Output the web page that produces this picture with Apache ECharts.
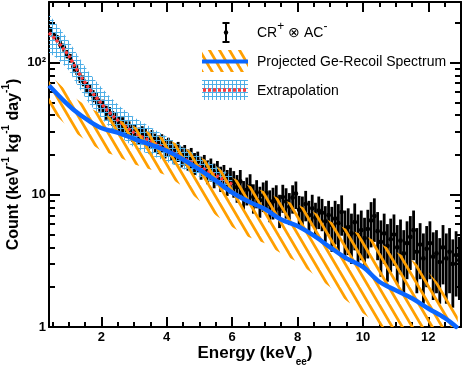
<!DOCTYPE html>
<html>
<head>
<meta charset="utf-8">
<script src="https://cdn.jsdelivr.net/npm/echarts@6.0.0/dist/echarts.min.js"></script>
<style>
html, body { margin: 0; padding: 0; background: #fff; }
#chart { width: 463px; height: 368px; }
</style>
</head>
<body>
<div id="chart"></div>
<script>
// measured spectrum (CR+ x AC-), 0.1 keV bins from 0.4 keV
const binLow = 0.4
const binWidth = 0.1
const counts = [
  175, 160, 152, 136, 130, 116, 108, 93, 88, 77, 73, 65, 62, 56, 54, 48, 47, 42, 41, 38, 37, 34.5, 34, 31.5, 31.5, 29.5,
  29.5, 28, 28.8, 27.5, 26, 26.8, 25, 24.2, 24.8, 22.6, 23.2, 22, 20.8, 21.4, 19.6, 20.2, 18.6, 19.1, 17.4, 17.9,
  16.2, 16.8, 15.1, 15.7, 14.2, 14.9, 13.4, 13.9, 12.6, 13.1,
  12.3, 11.4, 12.6, 10.2, 10.9, 11.6, 9.6, 10.4, 9.1, 9.9, 10.3, 8.5, 8.9, 9.4, 7.8,
  9.6, 8.9, 8.1, 9.5, 10.2, 7.7, 7.6, 8.5, 7.0, 7.9, 6.7, 7.6, 7.3, 6.3, 7.0, 5.9, 6.6, 6.1, 7.4, 5.4,
  5.7, 5.1, 6.2, 5.0, 5.4, 4.7, 5.5, 6.4, 6.9, 5.3, 4.4, 5.1, 4.1, 4.6, 5.0, 4.0, 4.5, 3.6, 4.3, 4.8,
  5.4, 3.7, 4.2, 3.3, 3.9, 4.3, 3.4, 3.6, 3.1, 4.0, 3.3, 3.7, 3.0, 3.5, 3.2
]
const countErrs = [
  10.5, 10, 9.7, 9.2, 9, 8.5, 8.2, 7.6, 7.4, 6.9, 6.8, 6.4, 6.2, 5.9, 5.8, 5.5, 5.4, 5.1, 5.1, 4.9, 4.8, 4.6, 4.6, 4.4, 4.4, 4.3,
  4.3, 4.2, 4.2, 4.1, 4.0, 4.1, 4.0, 3.9, 3.9, 3.8, 3.8, 3.7, 3.6, 3.7, 3.5, 3.6, 3.4, 3.5, 3.3, 3.3,
  3.2, 3.2, 3.1, 3.1, 3.0, 3.1, 2.9, 2.9, 2.8, 2.9,
  2.8, 2.7, 2.8, 2.5, 2.6, 2.7, 2.4, 2.5, 2.4, 2.5, 2.5, 2.3, 2.4, 2.4, 2.2, 2.3, 2.3, 2.2, 2.3, 2.4,
  2.1, 2.1, 2.2, 2.0, 2.1, 2.0, 2.1, 2.0, 1.9, 2.0, 2.2, 2.4, 2.4, 2.5, 2.2, 2.2, 2.1, 2.4, 2.1, 2.2,
  2.0, 2.2, 2.4, 2.5, 2.1, 2.0, 2.1, 1.9, 2.0, 2.1, 1.9, 2.0, 1.8, 2.0, 2.1, 2.2, 1.9, 1.9, 1.8, 1.9,
  2.0, 1.8, 1.8, 1.6, 1.9, 1.8, 1.9, 1.6, 1.8, 1.6
]

// projected Ge-recoil spectrum with its uncertainty band
const projE   = [0.4, 0.8, 1.2, 1.6, 2.0, 2.5, 3.0, 3.5, 4.0, 4.5, 5.0, 5.5, 6.0, 6.5, 7.0, 7.5, 8.0, 8.5, 9.0, 9.5, 10.0, 10.5, 11.0, 11.5, 12.0, 12.5, 12.9]
const projMid = [67, 53, 43, 36.5, 32, 29.5, 26.5, 24, 21.5, 18.5, 15.5, 12.8, 10.4, 8.9, 7.8, 6.5, 5.8, 4.9, 4.0, 3.3, 2.85, 2.2, 1.9, 1.65, 1.38, 1.17, 0.98]
const projHi  = [82, 66, 54, 46, 41, 37, 33, 29.5, 26.5, 23, 19.5, 16.5, 13.5, 11.8, 10.6, 9.2, 8.4, 7.4, 6.3, 5.5, 5.0, 4.3, 3.7, 3.2, 2.6, 1.9, 1.3]
const projLo  = [45, 36, 29.5, 25, 21.5, 19.5, 17, 15.5, 14, 11.5, 9, 7, 5.7, 4.8, 4.3, 3.6, 3.1, 2.5, 2.0, 1.58, 1.27, 1.03, 0.85, 0.7, 0.6, 0.5, 0.45]

// extrapolation
const extE   = [0.4, 0.6, 0.8, 1.0, 1.2, 1.4, 1.6, 1.8, 2.0, 2.2, 2.4, 2.6, 2.8, 3.0, 3.5, 4.0, 4.5, 5.0, 5.5, 6.0]
const extMid = [168, 150, 131, 113, 93, 77, 65, 56, 49, 43, 38.5, 35, 32, 29.5, 25.5, 22, 19, 16.3, 14, 12]
const extHi  = [232, 200, 172, 147, 122, 102, 86, 74, 65, 57, 51, 46, 42, 38.5, 32.5, 27.5, 23, 19.5, 16.5, 13.8]
const extLo  = [118, 110, 99, 88, 72, 60, 50, 43.5, 38, 33.5, 30, 27.2, 24.8, 22.8, 20, 17.8, 15.7, 13.7, 11.9, 10.4]

// axis ticks
const xMajor = [2, 4, 6, 8, 10, 12]
const xMinor = [0.5, 1, 1.5, 2.5, 3, 3.5, 4.5, 5, 5.5, 6.5, 7, 7.5, 8.5, 9, 9.5, 10.5, 11, 11.5, 12.5]
const yMajor = [1, 10, 100]
const yMinor = [2, 3, 4, 5, 6, 7, 8, 9, 20, 30, 40, 50, 60, 70, 80, 90, 200]

const FONT = '"Liberation Sans", Arial, Helvetica, sans-serif'
const BLUE = '#0a66ff'
const ORANGE = '#ff9f00'
const CYAN = '#4eaee6'
const RED = '#ff3a3a'

function hatchPattern() {
  const c = document.createElement('canvas')
  c.width = 10; c.height = 17
  const g = c.getContext('2d')
  g.strokeStyle = ORANGE
  g.lineWidth = 2.8
  for (const dx of [-10, 0, 10]) {
    g.beginPath()
    g.moveTo(dx - 10, -17)
    g.lineTo(dx + 20, 34)
    g.stroke()
  }
  return { image: c, repeat: 'repeat' }
}

function gridPattern() {
  const c = document.createElement('canvas')
  c.width = 4; c.height = 4
  const g = c.getContext('2d')
  g.strokeStyle = CYAN
  g.lineWidth = 1
  g.beginPath()
  g.moveTo(0.5, 0); g.lineTo(0.5, 4)
  g.moveTo(0, 0.5); g.lineTo(4, 0.5)
  g.stroke()
  return { image: c, repeat: 'repeat' }
}

const orangeFill = hatchPattern()
const cyanFill = gridPattern()

function bandSeries(xs, lo, hi, fill, z) {
  return {
    type: 'custom',
    clip: true,
    silent: true,
    z: z,
    data: [[xs[0], hi[0]]],
    encode: { x: 0, y: 1 },
    renderItem: function (params, api) {
      const pts = []
      for (let i = 0; i < xs.length; i++) pts.push(api.coord([xs[i], hi[i]]))
      for (let i = xs.length - 1; i >= 0; i--) pts.push(api.coord([xs[i], lo[i]]))
      return { type: 'polygon', shape: { points: pts }, style: { fill: fill } }
    }
  }
}

function xAx(grid, pos, ticks, len, line) {
  return {
    type: 'value', gridIndex: grid, position: pos, min: 0.4, max: 13,
    axisLine: { show: line, onZero: false, lineStyle: { color: '#000', width: 2 } },
    axisTick: { show: true, inside: true, length: len, customValues: ticks, lineStyle: { color: '#000', width: 2 } },
    axisLabel: { show: false },
    splitLine: { show: false }
  }
}

function yAx(grid, pos, ticks, len, line) {
  return {
    type: 'log', logBase: 10, gridIndex: grid, position: pos, min: 1, max: 287,
    axisLine: { show: line, onZero: false, lineStyle: { color: '#000', width: 2 } },
    axisTick: { show: true, inside: true, length: len, customValues: ticks, lineStyle: { color: '#000', width: 2 } },
    axisLabel: { show: false },
    splitLine: { show: false },
    minorTick: { show: false }
  }
}

const xBottom = xAx(0, 'bottom', xMajor, 10, true)
xBottom.axisLabel = {
  show: true, customValues: xMajor, margin: 4,
  color: '#000', fontFamily: FONT, fontWeight: 'bold', fontSize: 13
}
xBottom.name = 'Energy (keV{b|ee})'
xBottom.nameLocation = 'middle'
xBottom.nameGap = 12
xBottom.nameMoveOverlap = false
xBottom.nameTextStyle = {
  color: '#000', fontFamily: FONT, fontWeight: 'bold', fontSize: 17, lineHeight: 28,
  rich: { b: { fontFamily: FONT, fontWeight: 'bold', fontSize: 10, verticalAlign: 'bottom', color: '#000' } }
}

const yLeft = yAx(0, 'left', yMajor, 11, true)
yLeft.axisLabel = {
  show: true, customValues: yMajor, margin: 3,
  color: '#000', fontFamily: FONT, fontWeight: 'bold', fontSize: 13,
  formatter: function (v) { return v >= 100 ? '10²' : String(v) }
}
yLeft.name = 'Count (keV{s|-1} kg{s|-1} day{s|-1})'
yLeft.nameLocation = 'middle'
yLeft.nameGap = 23
yLeft.nameRotate = 90
yLeft.nameMoveOverlap = false
yLeft.nameTextStyle = {
  color: '#000', fontFamily: FONT, fontWeight: 'bold', fontSize: 16, lineHeight: 25,
  rich: { s: { fontFamily: FONT, fontWeight: 'bold', fontSize: 10, verticalAlign: 'top', color: '#000' } }
}

const points = counts.map((v, i) => [binLow + binWidth * (i + 0.5), v, countErrs[i]])

const chart = echarts.init(document.getElementById('chart'), null, { renderer: 'canvas' })

const option = {
  animation: false,
  backgroundColor: '#fff',
  grid: [
    { left: 49, right: 2, top: 2, bottom: 41, containLabel: false, outerBoundsMode: 'none' },
    { left: 49, right: 2, top: 2, bottom: 41, containLabel: false, outerBoundsMode: 'none' }
  ],
  xAxis: [
    xBottom,
    xAx(0, 'top', xMajor, 10, true),
    xAx(1, 'bottom', xMinor, 5, false),
    xAx(1, 'top', xMinor, 5, false)
  ],
  yAxis: [
    yLeft,
    yAx(0, 'right', yMajor, 11, true),
    yAx(1, 'left', yMinor, 6, false),
    yAx(1, 'right', yMinor, 6, false)
  ],
  series: [
    {
      // data points with error bars
      type: 'custom',
      clip: true,
      silent: true,
      z: 2,
      data: points,
      encode: { x: 0, y: 1 },
      renderItem: function (params, api) {
        const x = api.value(0), y = api.value(1), e = api.value(2)
        const mid = api.coord([x, y])
        const top = api.coord([x, y + e])
        const bot = api.coord([x, Math.max(y - e, 0.3)])
        const l = api.coord([x - binWidth / 2, y])
        const r = api.coord([x + binWidth / 2, y])
        return {
          type: 'group',
          children: [
            { type: 'line', shape: { x1: mid[0], y1: top[1], x2: mid[0], y2: bot[1] }, style: { stroke: '#000', lineWidth: 2.8 } },
            { type: 'line', shape: { x1: l[0], y1: mid[1], x2: r[0], y2: mid[1] }, style: { stroke: '#000', lineWidth: 1.8 } },
            { type: 'circle', shape: { cx: mid[0], cy: mid[1], r: 2.4 }, style: { fill: '#000' } }
          ]
        }
      }
    },
    bandSeries(extE, extLo, extHi, cyanFill, 3),
    {
      type: 'line',
      z: 4,
      data: extE.map((e, i) => [e, extMid[i]]),
      smooth: 0.3,
      showSymbol: false,
      silent: true,
      lineStyle: { color: RED, width: 3.2, type: [3, 2] }
    },
    bandSeries(projE, projLo, projHi, orangeFill, 5),
    {
      type: 'line',
      z: 6,
      data: projE.map((e, i) => [e, projMid[i]]),
      smooth: 0.35,
      showSymbol: false,
      silent: true,
      lineStyle: { color: BLUE, width: 4.5 }
    }
  ],
  graphic: [
    { type: 'line', z: 100, shape: { x1: 226, y1: 23, x2: 226, y2: 42 }, style: { stroke: '#000', lineWidth: 2 } },
    { type: 'line', z: 100, shape: { x1: 222.5, y1: 23, x2: 229.5, y2: 23 }, style: { stroke: '#000', lineWidth: 2 } },
    { type: 'line', z: 100, shape: { x1: 222.5, y1: 42, x2: 229.5, y2: 42 }, style: { stroke: '#000', lineWidth: 2 } },
    { type: 'circle', z: 100, shape: { cx: 226, cy: 32.5, r: 2.2 }, style: { fill: '#000' } },
    { type: 'rect', z: 100, shape: { x: 202, y: 50, width: 46, height: 22 }, style: { fill: orangeFill } },
    { type: 'line', z: 101, shape: { x1: 202, y1: 61.5, x2: 248, y2: 61.5 }, style: { stroke: BLUE, lineWidth: 4 } },
    { type: 'rect', z: 100, shape: { x: 202, y: 80, width: 46, height: 20 }, style: { fill: cyanFill } },
    { type: 'line', z: 101, shape: { x1: 203, y1: 90, x2: 247, y2: 90 }, style: { stroke: RED, lineWidth: 3.5, lineDash: [3, 2] } },
    {
      type: 'text', z: 100, x: 257, y: 33,
      style: {
        text: 'CR{s|+} ⊗ AC{s|-}', fill: '#000', fontFamily: FONT, fontSize: 14, lineHeight: 24,
        verticalAlign: 'middle',
        rich: { s: { fontFamily: FONT, fontSize: 12, verticalAlign: 'top', fill: '#000' } }
      }
    },
    {
      type: 'text', z: 100, x: 257, y: 62,
      style: { text: 'Projected Ge-Recoil Spectrum', fill: '#000', fontFamily: FONT, fontSize: 14, verticalAlign: 'middle' }
    },
    {
      type: 'text', z: 100, x: 257, y: 91,
      style: { text: 'Extrapolation', fill: '#000', fontFamily: FONT, fontSize: 14, verticalAlign: 'middle' }
    }
  ]
}

chart.setOption(option)
</script>
</body>
</html>
